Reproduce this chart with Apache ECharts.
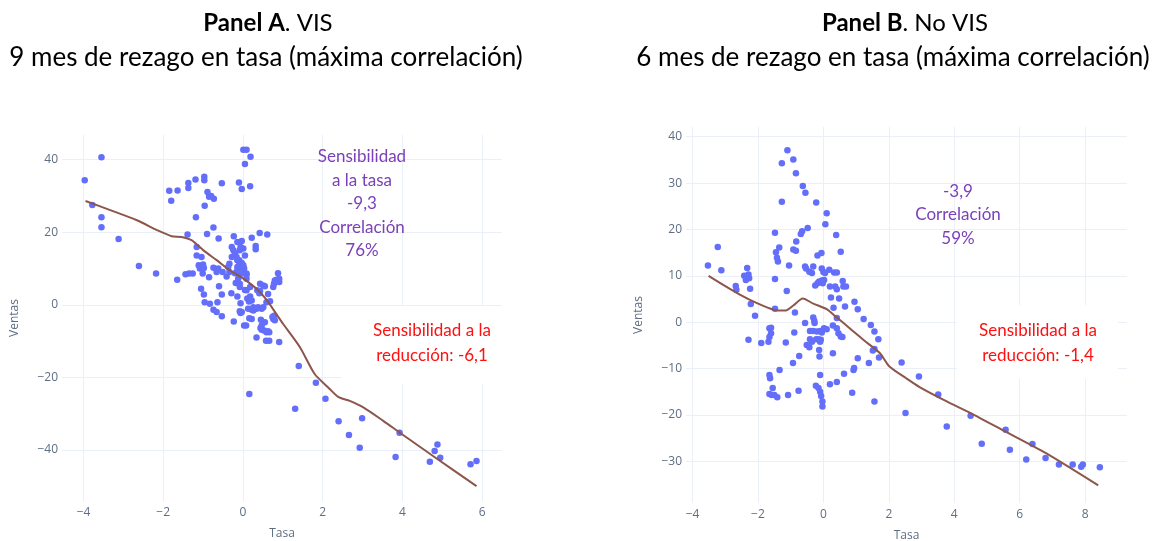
<!DOCTYPE html>
<html><head><meta charset="utf-8">
<script src="https://cdn.jsdelivr.net/npm/echarts@6/dist/echarts.min.js"></script>
<style>html,body{margin:0;padding:0;background:#fff}#c{width:1154px;height:541px}</style>
</head><body><div id="c"></div>
<script>
// ---------- DATA ----------
const visPoints = [
[-3.97,34.3],[-3.55,40.7],[-3.78,27.5],[-3.55,24.1],[-3.55,21.4],[-3.12,18.1],[-2.61,10.7],[-2.18,8.6],
[-1.85,31.4],[-1.80,28.7],[-1.64,31.5],[-1.65,6.9],[-1.37,33.6],[-1.37,32.2],[-1.19,34.5],[-0.97,35.3],
[-0.97,34.3],[-0.89,31.1],[-0.85,29.8],[-0.73,29.2],[-0.80,30.0],[-0.96,27.3],[-1.18,24.1],[-0.53,33.5],
[-0.10,33.7],[-0.03,31.9],[0.18,32.7],[0.01,42.7],[0.09,42.7],[0.19,40.8],[0.05,38.8],[-1.39,19.4],
[-0.74,21.3],[-0.90,19.5],[-0.61,18.3],[-0.23,18.9],[-0.14,17.3],[-0.03,17.6],[0.22,18.5],[0.42,19.8],
[0.61,19.4],[0.32,16.2],[0.32,15.3],[-1.16,15.9],[-1.04,13.2],[-1.16,13.6],[-1.11,10.9],[-1.08,10.0],
[-1.01,8.6],[-1.44,8.4],[-1.35,8.6],[-1.26,8.6],[-0.85,7.6],[-0.98,10.1],[-0.62,10.0],[-0.66,9.0],
[-0.41,7.8],[-1.05,4.4],[-0.98,2.8],[-0.96,0.7],[-0.83,0.3],[-0.60,5.1],[-0.53,2.8],[-0.64,0.7],
[-0.29,3.2],[-0.14,2.3],[-1.00,11.1],[-0.74,10.2],[-0.51,9.0],[-0.34,11.3],[-0.37,10.4],[-0.28,13.2],
[-0.20,14.1],[-0.14,12.3],[-0.09,11.1],[-0.03,10.4],[-0.14,9.5],[-0.20,8.7],[-0.08,8.6],[0.03,10.0],
[0.09,8.6],[-0.24,15.0],[-0.28,15.9],[-0.08,15.0],[0.01,15.5],[0.05,13.6],[-0.06,15.9],[-0.16,13.2],
[-0.09,12.3],[-0.03,11.5],[0.01,10.9],[-0.14,10.4],[-0.34,9.0],[-0.03,8.6],[-0.12,7.2],[-0.18,6.0],
[-0.08,4.9],[-0.08,5.8],[-0.74,-1.4],[-0.66,-2.0],[-0.53,-3.2],[-0.23,-4.6],[-0.06,0.4],[-0.08,-1.8],
[0.03,-5.7],[0.05,4.1],[0.11,1.7],[0.15,0.9],[-0.03,-2.0],[0.21,-1.3],[0.26,-1.6],[0.16,-3.7],
[0.09,8.3],[0.09,7.2],[0.18,2.3],[0.22,1.2],[0.36,4.0],[0.43,3.8],[0.43,5.8],[0.51,5.3],
[0.55,5.1],[0.38,-0.7],[0.47,-1.1],[0.51,-0.7],[0.63,3.0],[0.68,1.0],[0.76,4.9],[0.80,6.7],
[0.84,6.9],[0.91,6.3],[0.88,8.7],[0.91,7.2],[0.78,5.8],[0.45,-4.1],[0.55,-4.8],[0.44,-6.4],
[0.47,-6.9],[0.53,-7.1],[0.63,-7.3],[0.76,-3.9],[0.80,-4.3],[0.74,-3.4],[0.34,-9.0],[0.58,-9.9],
[0.66,-9.9],[0.91,-10.3],[-0.06,-2.3],[0.08,-5.7],[0.13,-1.1],[0.22,-3.9],[0.47,-5.7],[0.59,-7.6],
[0.66,-7.6],[0.18,4.9],[0.09,4.0],[0.41,3.2],[0.59,0.7],[0.18,1.2],[0.26,-0.7],[0.34,-1.1],
[0.78,-3.0],[0.16,-24.6],[1.40,-16.9],[1.31,-28.7],[1.83,-21.5],[2.07,-25.9],[2.40,-32.1],[2.66,-35.9],
[2.99,-31.3],[2.93,-39.4],[3.83,-42.0],[3.93,-35.3],[4.69,-43.3],[4.81,-40.3],[4.88,-38.5],[4.95,-42.2],
[5.71,-44.0],[5.86,-43.1]
];
const visTrend = [
[-3.95,28.6],[-3.33,26.1],[-2.66,23.3],[-2.16,20.6],[-1.79,18.9],[-1.54,18.7],[-1.29,17.8],[-0.99,15.0],
[-0.66,12.3],[-0.33,9.5],[0.01,7.2],[0.34,4.4],[0.59,1.4],[0.84,-2.6],[1.01,-5.3],[1.43,-11.7],
[1.80,-19.1],[2.14,-22.8],[2.39,-25.4],[2.68,-26.5],[3.02,-28.3],[3.52,-32.0],[3.93,-35.2],[4.77,-41.7],
[5.86,-50.0]
];
const noVisPoints = [
[-3.53,12.2],[-3.23,16.2],[-3.12,11.2],[-2.68,7.8],[-2.66,7.0],[-2.33,11.7],[-2.42,10.0],[-2.29,10.3],
[-2.37,9.1],[-2.27,9.5],[-2.24,7.2],[-2.22,3.9],[-2.09,1.4],[-1.60,-1.2],[-1.48,19.3],[-1.45,15.1],
[-1.42,13.9],[-1.39,13.1],[-1.35,16.1],[-1.48,9.3],[-1.48,2.9],[-1.27,26.0],[-1.27,34.3],[-1.10,37.1],
[-0.92,35.1],[-0.84,32.1],[-0.63,29.4],[-0.55,27.9],[-0.22,25.8],[0.10,23.5],[0.06,21.1],[-0.48,20.3],
[-0.65,19.6],[-0.69,19.0],[-0.83,17.4],[-0.92,15.7],[-0.84,15.4],[-1.05,12.2],[-1.12,6.7],[-0.87,2.1],
[0.39,18.8],[0.53,15.2],[-0.18,14.4],[-0.06,14.9],[-0.56,12.0],[-0.53,11.6],[-0.31,12.0],[-0.43,10.9],
[-0.35,10.6],[-0.05,11.6],[0.00,10.8],[0.05,10.6],[0.18,11.3],[0.33,10.7],[0.41,10.7],[-0.25,7.9],
[-0.18,8.4],[-0.13,8.8],[-0.05,9.0],[0.02,9.1],[-0.02,8.4],[0.20,7.7],[0.36,7.7],[0.41,7.1],
[0.59,8.9],[0.61,7.7],[0.69,7.7],[0.48,5.1],[0.23,5.3],[0.66,3.4],[0.95,4.4],[1.05,2.8],
[0.31,3.1],[0.41,0.9],[1.23,0.7],[1.45,-0.6],[-0.56,-0.2],[-0.31,1.0],[-0.27,-0.2],[0.02,-1.3],
[0.10,-1.5],[-2.29,-3.8],[-1.90,-4.5],[-1.65,-1.3],[-1.60,-2.4],[-1.65,-3.2],[-1.68,-4.2],[-1.15,-4.4],
[-0.89,-2.2],[-0.28,0.3],[-0.41,-1.9],[-0.31,-1.9],[-0.20,-2.0],[-0.10,-1.9],[-0.05,-2.2],[0.29,-0.7],
[0.41,-1.3],[0.46,-2.4],[0.53,-3.1],[0.58,-3.2],[-0.41,-3.7],[-0.35,-4.2],[-0.22,-3.7],[-0.51,-4.9],
[-0.43,-5.4],[-0.15,-3.7],[-0.10,-4.2],[-0.08,-3.8],[-0.13,-6.0],[-0.12,-7.4],[0.29,-6.7],[-0.74,-7.3],
[-0.93,-8.8],[-1.34,-10.3],[-1.65,-11.4],[-1.63,-12.1],[-1.55,-14.2],[-1.65,-15.5],[-1.58,-15.7],[-1.50,-15.7],
[-1.41,-16.2],[-1.08,-15.7],[-0.76,-14.8],[-0.23,-13.7],[-0.15,-14.2],[-0.10,-11.4],[-0.10,-15.0],[-0.07,-15.9],
[-0.03,-17.1],[-0.03,-18.2],[0.20,-13.4],[0.41,-12.9],[0.63,-11.1],[0.92,-10.3],[0.94,-9.9],[0.88,-15.2],
[1.05,-7.8],[1.39,-8.8],[1.51,-6.1],[1.56,-5.8],[1.56,-17.1],[1.68,-3.7],[1.56,-2.0],[1.70,-7.6],
[2.39,-8.7],[2.92,-11.7],[2.51,-19.6],[3.51,-15.6],[3.77,-22.5],[4.50,-20.2],[4.84,-26.2],[5.57,-23.2],
[5.70,-27.5],[6.20,-29.6],[6.39,-26.3],[6.79,-29.3],[7.20,-30.7],[7.62,-30.7],[7.88,-31.2],[7.93,-30.7],
[8.45,-31.3]
];
const noVisTrend = [
[-3.51,10.0],[-3.05,8.0],[-2.54,5.9],[-2.03,4.1],[-1.53,2.7],[-1.17,2.5],[-0.92,3.6],[-0.63,5.1],
[-0.31,4.0],[0.10,2.8],[0.41,1.0],[0.82,-1.4],[1.22,-3.8],[1.73,-6.7],[2.01,-9.5],[2.53,-12.1],
[2.94,-14.0],[3.77,-17.1],[4.50,-19.6],[5.54,-23.5],[6.79,-28.2],[8.40,-35.2]
];
const visXTicks = [-4,-2,0,2,4,6];
const visYTicks = [-40,-20,0,20,40];
const noVisXTicks = [-4,-2,0,2,4,6,8];
const noVisYTicks = [-30,-20,-10,0,10,20,30,40];
const xTitle = 'Tasa', yTitle = 'Ventas';
const panelBold = ['Panel A', 'Panel B'];
const panelRest = ['. VIS', '. No VIS'];
const panelSub = ['9 mes de rezago en tasa (máxima correlación)', '6 mes de rezago en tasa (máxima correlación)'];
const purpleNotes = ['Sensibilidad\na la tasa\n-9,3\nCorrelación\n76%', '-3,9\nCorrelación\n59%'];
const redNotes = ['Sensibilidad a la\nreducción: -6,1', 'Sensibilidad a la\nreducción: -1,4'];

// ---------- LAYOUT ----------
const GRIDC = '#ebf0f8', TICKC = '#5f6e84', AX_FONT = '"Open Sans", sans-serif';
const NOTE_FONT = '"Liberation Sans Narrow", Lato, sans-serif';
const TITLE_FONT = 'Lato, "Open Sans", sans-serif';
const panels = [
  {pts: visPoints, trend: visTrend, xt: visXTicks, yt: visYTicks, xr: [-4.54, 6.5], yr: [-54.1, 46.8],
   g: {left: 62, top: 135, width: 440, height: 366}, tx: 268, sx: 266,
   purple: {x: 362, y: 204}, red: {x: 432, y: 343}, box: {x: 341, y: 306, w: 163, h: 78}},
  {pts: noVisPoints, trend: noVisTrend, xt: noVisXTicks, yt: noVisYTicks, xr: [-4.2, 9.28], yr: [-39, 42.1],
   g: {left: 686, top: 127, width: 441, height: 376}, tx: 905, sx: 893,
   purple: {x: 958, y: 215}, red: {x: 1038, y: 343}, box: {x: 957, y: 305, w: 161, h: 74}}
];
const fmt = v => String(v).replace('-', '\u2212');

const grid = [], xAxis = [], yAxis = [], series = [], graphic = [];
panels.forEach((p, i) => {
  const g = p.g;
  const xa = p.xr[0], xb = p.xr[1], ya = p.yr[0], yb = p.yr[1];
  const x0 = p.xt[0], x1 = p.xt[p.xt.length - 1], y0 = p.yt[0], y1 = p.yt[p.yt.length - 1];
  const xi = p.xt[1] - p.xt[0], yi = p.yt[1] - p.yt[0];
  const gx = {left: g.left + (x0 - xa) / (xb - xa) * g.width, width: (x1 - x0) / (xb - xa) * g.width, top: g.top, height: g.height};
  const gy = {left: g.left, width: g.width, top: g.top + (yb - y1) / (yb - ya) * g.height, height: (y1 - y0) / (yb - ya) * g.height};
  const base = grid.length;
  grid.push(Object.assign({outerBoundsMode: 'none', containLabel: false}, gx));
  grid.push(Object.assign({outerBoundsMode: 'none', containLabel: false}, gy));
  grid.push(Object.assign({outerBoundsMode: 'none', containLabel: false}, g));
  // grid X: vertical gridlines and x tick labels
  xAxis.push({gridIndex: base, type: 'value', min: x0, max: x1, interval: xi,
    axisLine: {show: false}, axisTick: {show: false},
    axisLabel: {color: TICKC, fontSize: 12, fontFamily: AX_FONT, margin: 6, formatter: fmt},
    splitLine: {show: true, lineStyle: {color: GRIDC, width: 1}}});
  yAxis.push({gridIndex: base, type: 'value', min: 0, max: 1, show: false});
  // grid Y: horizontal gridlines and y tick labels
  xAxis.push({gridIndex: base + 1, type: 'value', min: 0, max: 1, show: false});
  yAxis.push({gridIndex: base + 1, type: 'value', min: y0, max: y1, interval: yi,
    axisLine: {show: false}, axisTick: {show: false},
    axisLabel: {color: TICKC, fontSize: 12, fontFamily: AX_FONT, margin: 4, formatter: fmt},
    splitLine: {show: true, lineStyle: {color: GRIDC, width: 1}}});
  // data grid
  xAxis.push({gridIndex: base + 2, type: 'value', min: xa, max: xb,
    axisLine: {show: false}, axisTick: {show: false}, axisLabel: {show: false}, splitLine: {show: false},
    name: xTitle, nameLocation: 'middle', nameGap: 27,
    nameTextStyle: {color: TICKC, fontSize: 12, fontFamily: AX_FONT}});
  yAxis.push({gridIndex: base + 2, type: 'value', min: ya, max: yb,
    axisLine: {show: false}, axisTick: {show: false}, axisLabel: {show: false}, splitLine: {show: false},
    name: yTitle, nameLocation: 'middle', nameGap: 41,
    nameTextStyle: {color: TICKC, fontSize: 12, fontFamily: AX_FONT}});
  series.push({type: 'scatter', xAxisIndex: base + 2, yAxisIndex: base + 2, data: p.pts,
    symbolSize: 6.5, itemStyle: {color: '#636efa', opacity: 1}, z: 3, silent: true});
  series.push({type: 'line', xAxisIndex: base + 2, yAxisIndex: base + 2, data: p.trend,
    showSymbol: false, smooth: 0.25, lineStyle: {color: '#8c564b', width: 2}, z: 4, silent: true});
  // titles
  graphic.push({type: 'text', x: p.tx, y: 23, style: {
    text: '{b|' + panelBold[i] + '}{n|' + panelRest[i] + '}',
    rich: {b: {fontWeight: 'bold', fontSize: 24, fontFamily: TITLE_FONT, fill: '#000'},
           n: {fontSize: 24, fontFamily: TITLE_FONT, fill: '#000'}},
    fontSize: 24, fontFamily: TITLE_FONT, fill: '#000',
    align: 'center', verticalAlign: 'middle', textAlign: 'center', textVerticalAlign: 'middle'}});
  graphic.push({type: 'text', x: p.sx, y: 58, style: {
    text: panelSub[i], fontSize: 26, fontFamily: TITLE_FONT, fill: '#000',
    align: 'center', verticalAlign: 'middle', textAlign: 'center', textVerticalAlign: 'middle'}});
  // white box behind red note
  graphic.push({type: 'rect', shape: {x: p.box.x, y: p.box.y, width: p.box.w, height: p.box.h},
    style: {fill: '#ffffff'}, z: 5});
  graphic.push({type: 'text', x: p.red.x, y: p.red.y, z: 6, style: {
    text: redNotes[i], fontSize: 17, fontFamily: NOTE_FONT, fill: '#ff1010', lineHeight: 25,
    align: 'center', verticalAlign: 'middle', textAlign: 'center', textVerticalAlign: 'middle'}});
  graphic.push({type: 'text', x: p.purple.x, y: p.purple.y, z: 6, style: {
    text: purpleNotes[i], fontSize: 17, fontFamily: NOTE_FONT, fill: '#7b3fb8', lineHeight: 23.5,
    align: 'center', verticalAlign: 'middle', textAlign: 'center', textVerticalAlign: 'middle'}});
});

const chart = echarts.init(document.getElementById('c'), null, {renderer: 'canvas'});
chart.setOption({
  animation: false,
  backgroundColor: '#ffffff',
  grid, xAxis, yAxis, series, graphic
});
</script></body></html>
